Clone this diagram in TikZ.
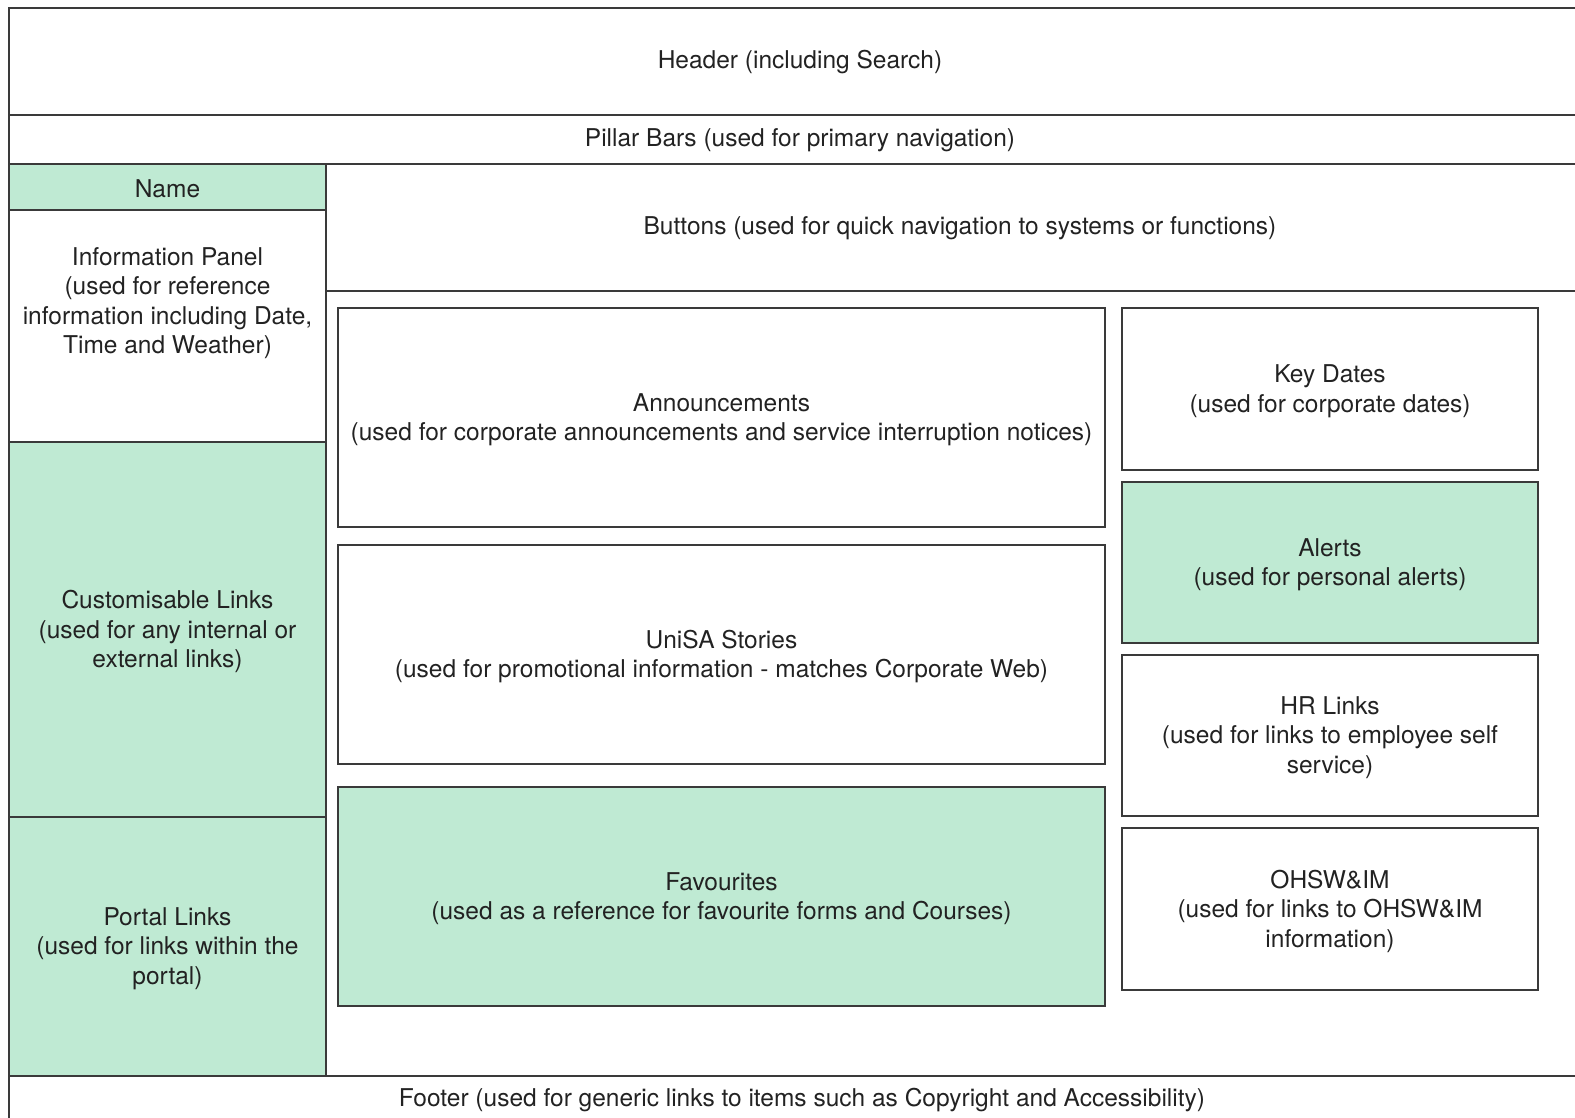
\documentclass[tikz,border=0pt]{standalone}
\usepackage{fontspec}
\setmainfont{TeX Gyre Heros}
\definecolor{pane}{HTML}{BFEAD3}
\definecolor{edge}{HTML}{3A3A3A}
\definecolor{ink}{HTML}{222222}
\begin{document}
\begin{tikzpicture}[x=1pt,y=-1pt,
  region/.style={draw=edge,line width=1.7pt,anchor=north west,inner sep=0pt,outer sep=0pt},
  greenregion/.style={region,fill=pane},
  label/.style={text=ink,font=\fontsize{24.5}{29.5}\selectfont,align=center,inner sep=0pt,yshift=-2pt}]
\useasboundingbox (0,0) rectangle (1575,1117);
\clip (0,0) rectangle (1575,1117);
% bands
\node[region,minimum width=1580pt,minimum height=107pt] (header) at (9,8) {};
\node[region,minimum width=1580pt,minimum height=49pt] (pillar) at (9,115) {};
\node[region,minimum width=1264pt,minimum height=127pt] (buttons) at (326,164) {};
\node[region,minimum width=1264pt,minimum height=785pt] (main) at (326,291) {};
\node[region,minimum width=1580pt,minimum height=60pt] (footer) at (9,1076) {};
% left column
\node[greenregion,minimum width=317pt,minimum height=46pt] (name) at (9,164) {};
\node[region,minimum width=317pt,minimum height=232pt] (info) at (9,210) {};
\node[greenregion,minimum width=317pt,minimum height=375pt] (custom) at (9,442) {};
\node[greenregion,minimum width=317pt,minimum height=259pt] (portal) at (9,817) {};
% centre column
\node[region,minimum width=767pt,minimum height=219pt] (announce) at (338,308) {};
\node[region,minimum width=767pt,minimum height=219pt] (stories) at (338,545) {};
\node[greenregion,minimum width=767pt,minimum height=219pt] (fav) at (338,787) {};
% right column
\node[region,minimum width=416pt,minimum height=162pt] (keydates) at (1122,308) {};
\node[greenregion,minimum width=416pt,minimum height=161pt] (alerts) at (1122,482) {};
\node[region,minimum width=416pt,minimum height=161pt] (hr) at (1122,655) {};
\node[region,minimum width=416pt,minimum height=162pt] (ohsw) at (1122,828) {};
% texts
\node[label] (theader) at (800,60) {Header (including Search)};
\node[label] (tpillar) at (800,138) {Pillar Bars (used for primary navigation)};
\node[label] (tbuttons) at (960,226) {Buttons (used for quick navigation to systems or functions)};
\node[label] (tname) at (name.center) {Name};
\node[label] (tinfo) at (167.5,301) {Information Panel\\(used for reference\\information including Date,\\Time and Weather)};
\node[label] (tcustom) at (custom.center) {Customisable Links\\(used for any internal or\\external links)};
\node[label] (tportal) at (portal.center) {Portal Links\\(used for links within the\\portal)};
\node[label] (tannounce) at (announce.center) {Announcements\\(used for corporate announcements and service interruption notices)};
\node[label] (tstories) at (stories.center) {UniSA Stories\\(used for promotional information - matches Corporate Web)};
\node[label] (tfav) at (fav.center) {Favourites\\(used as a reference for favourite forms and Courses)};
\node[label] (tkey) at (keydates.center) {Key Dates\\(used for corporate dates)};
\node[label] (talerts) at (alerts.center) {Alerts\\(used for personal alerts)};
\node[label] (thr) at (hr.center) {HR Links\\(used for links to employee self\\service)};
\node[label] (tohsw) at (ohsw.center) {OHSW\&IM\\(used for links to OHSW\&IM\\information)};
\node[label] (tfooter) at (802,1098) {Footer (used for generic links to items such as Copyright and Accessibility)};
\end{tikzpicture}
\end{document}
